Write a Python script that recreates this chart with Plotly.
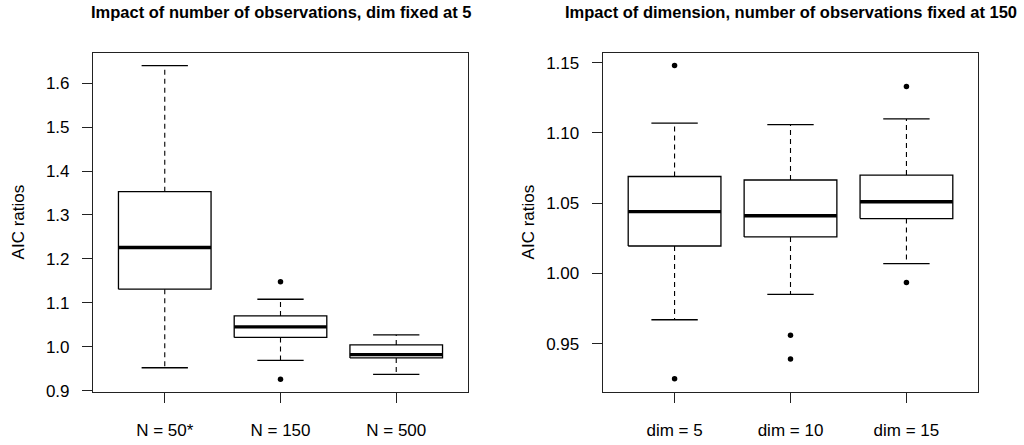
import plotly.graph_objects as go

# ---------------- data ----------------
left_categories = ["N = 50*", "N = 150", "N = 500"]
left_lower_whisker = [0.952, 0.969, 0.937]
left_q1 = [1.131, 1.021, 0.9745]
left_median = [1.226, 1.045, 0.982]
left_q3 = [1.353, 1.070, 1.004]
left_upper_whisker = [1.640, 1.108, 1.027]
left_outliers = [[], [1.148, 0.926], []]

right_categories = ["dim = 5", "dim = 10", "dim = 15"]
right_lower_whisker = [0.967, 0.985, 1.007]
right_q1 = [1.0195, 1.026, 1.039]
right_median = [1.044, 1.041, 1.051]
right_q3 = [1.069, 1.0665, 1.070]
right_upper_whisker = [1.107, 1.106, 1.110]
right_outliers = [[1.148, 0.925], [0.956, 0.939], [1.133, 0.9935]]

left_title = "Impact of number of observations, dim fixed at 5"
right_title = "Impact of dimension, number of observations fixed at 150"
y_label = "AIC ratios"

FONT = "Liberation Sans, Arial, sans-serif"
BOX_HALF = 0.4
CAP_HALF = 0.2

fig = go.Figure()


def add_boxes(lo, q1, med, q3, hi, outs, xa, ya):
    n = len(med)
    wx, wy, cx, cy, bx, by, mx, my, ox, oy = [], [], [], [], [], [], [], [], [], []
    for i in range(n):
        p = i + 1
        # whiskers (dashed)
        wx += [p, p, None, p, p, None]
        wy += [q3[i], hi[i], None, q1[i], lo[i], None]
        # caps
        cx += [p - CAP_HALF, p + CAP_HALF, None, p - CAP_HALF, p + CAP_HALF, None]
        cy += [hi[i], hi[i], None, lo[i], lo[i], None]
        # box
        bx += [p - BOX_HALF, p + BOX_HALF, p + BOX_HALF, p - BOX_HALF, p - BOX_HALF, None]
        by += [q1[i], q1[i], q3[i], q3[i], q1[i], None]
        # median
        mx += [p - BOX_HALF, p + BOX_HALF, None]
        my += [med[i], med[i], None]
        for v in outs[i]:
            ox.append(p)
            oy.append(v)
    common = dict(xaxis=xa, yaxis=ya, showlegend=False, hoverinfo="skip")
    fig.add_trace(go.Scatter(x=wx, y=wy, mode="lines",
                             line=dict(color="black", width=1.1, dash="5px,4px"), **common))
    fig.add_trace(go.Scatter(x=cx, y=cy, mode="lines",
                             line=dict(color="black", width=1.3), **common))
    fig.add_trace(go.Scatter(x=bx, y=by, mode="lines",
                             line=dict(color="black", width=1.3), **common))
    fig.add_trace(go.Scatter(x=mx, y=my, mode="lines",
                             line=dict(color="black", width=3.4), **common))
    fig.add_trace(go.Scatter(x=ox, y=oy, mode="markers",
                             marker=dict(color="black", size=5.5), **common))


add_boxes(left_lower_whisker, left_q1, left_median, left_q3, left_upper_whisker,
          left_outliers, "x", "y")
add_boxes(right_lower_whisker, right_q1, right_median, right_q3, right_upper_whisker,
          right_outliers, "x2", "y2")

W, H = 1024, 445
L_DOM = [93 / W, 468 / W]
R_DOM = [602.7 / W, 978.3 / W]
Y_DOM = [45 / H, 391 / H]

axis_common = dict(showline=True, mirror=True, linecolor="#222", linewidth=1.1,
                   showgrid=False, zeroline=False, ticks="outside", ticklen=10,
                   tickcolor="#222", tickwidth=1.1,
                   tickfont=dict(family=FONT, size=17, color="black"))

fig.update_layout(
    width=W, height=H,
    margin=dict(l=0, r=0, t=0, b=0),
    paper_bgcolor="white", plot_bgcolor="white",
    font=dict(family=FONT, color="black"),
    xaxis=dict(domain=L_DOM, anchor="y", range=[0.38, 3.62],
               tickmode="array", tickvals=[1, 2, 3], ticktext=left_categories,
               ticklabelstandoff=13, **axis_common),
    yaxis=dict(domain=Y_DOM, anchor="x", range=[0.897, 1.669],
               tickmode="array", tickvals=[0.9, 1.0, 1.1, 1.2, 1.3, 1.4, 1.5, 1.6],
               ticktext=["0.9", "1.0", "1.1", "1.2", "1.3", "1.4", "1.5", "1.6"],
               ticklabelstandoff=9, **axis_common),
    xaxis2=dict(domain=R_DOM, anchor="y2", range=[0.38, 3.62],
                tickmode="array", tickvals=[1, 2, 3], ticktext=right_categories,
                ticklabelstandoff=13, **axis_common),
    yaxis2=dict(domain=Y_DOM, anchor="x2", range=[0.9156, 1.157],
                tickmode="array", tickvals=[0.95, 1.00, 1.05, 1.10, 1.15],
                ticktext=["0.95", "1.00", "1.05", "1.10", "1.15"],
                ticklabelstandoff=9, **axis_common),
    annotations=[
        dict(text="<b>" + left_title + "</b>", xref="paper", yref="paper",
             x=sum(L_DOM) / 2, y=1 - 12 / H, xanchor="center", yanchor="middle",
             showarrow=False, font=dict(family=FONT, size=16.5, color="black")),
        dict(text="<b>" + right_title + "</b>", xref="paper", yref="paper",
             x=sum(R_DOM) / 2, y=1 - 12 / H, xanchor="center", yanchor="middle",
             showarrow=False, font=dict(family=FONT, size=16.5, color="black")),
        dict(text=y_label, xref="paper", yref="paper", textangle=-90,
             x=18 / W, y=1 - 227 / H, xanchor="center", yanchor="middle",
             showarrow=False, font=dict(family=FONT, size=17, color="black")),
        dict(text=y_label, xref="paper", yref="paper", textangle=-90,
             x=528 / W, y=1 - 227 / H, xanchor="center", yanchor="middle",
             showarrow=False, font=dict(family=FONT, size=17, color="black")),
    ],
)

fig.write_html("out.html",
               config={"displayModeBar": False},
               post_script="document.body.style.margin='0';document.body.style.overflow='hidden';")
